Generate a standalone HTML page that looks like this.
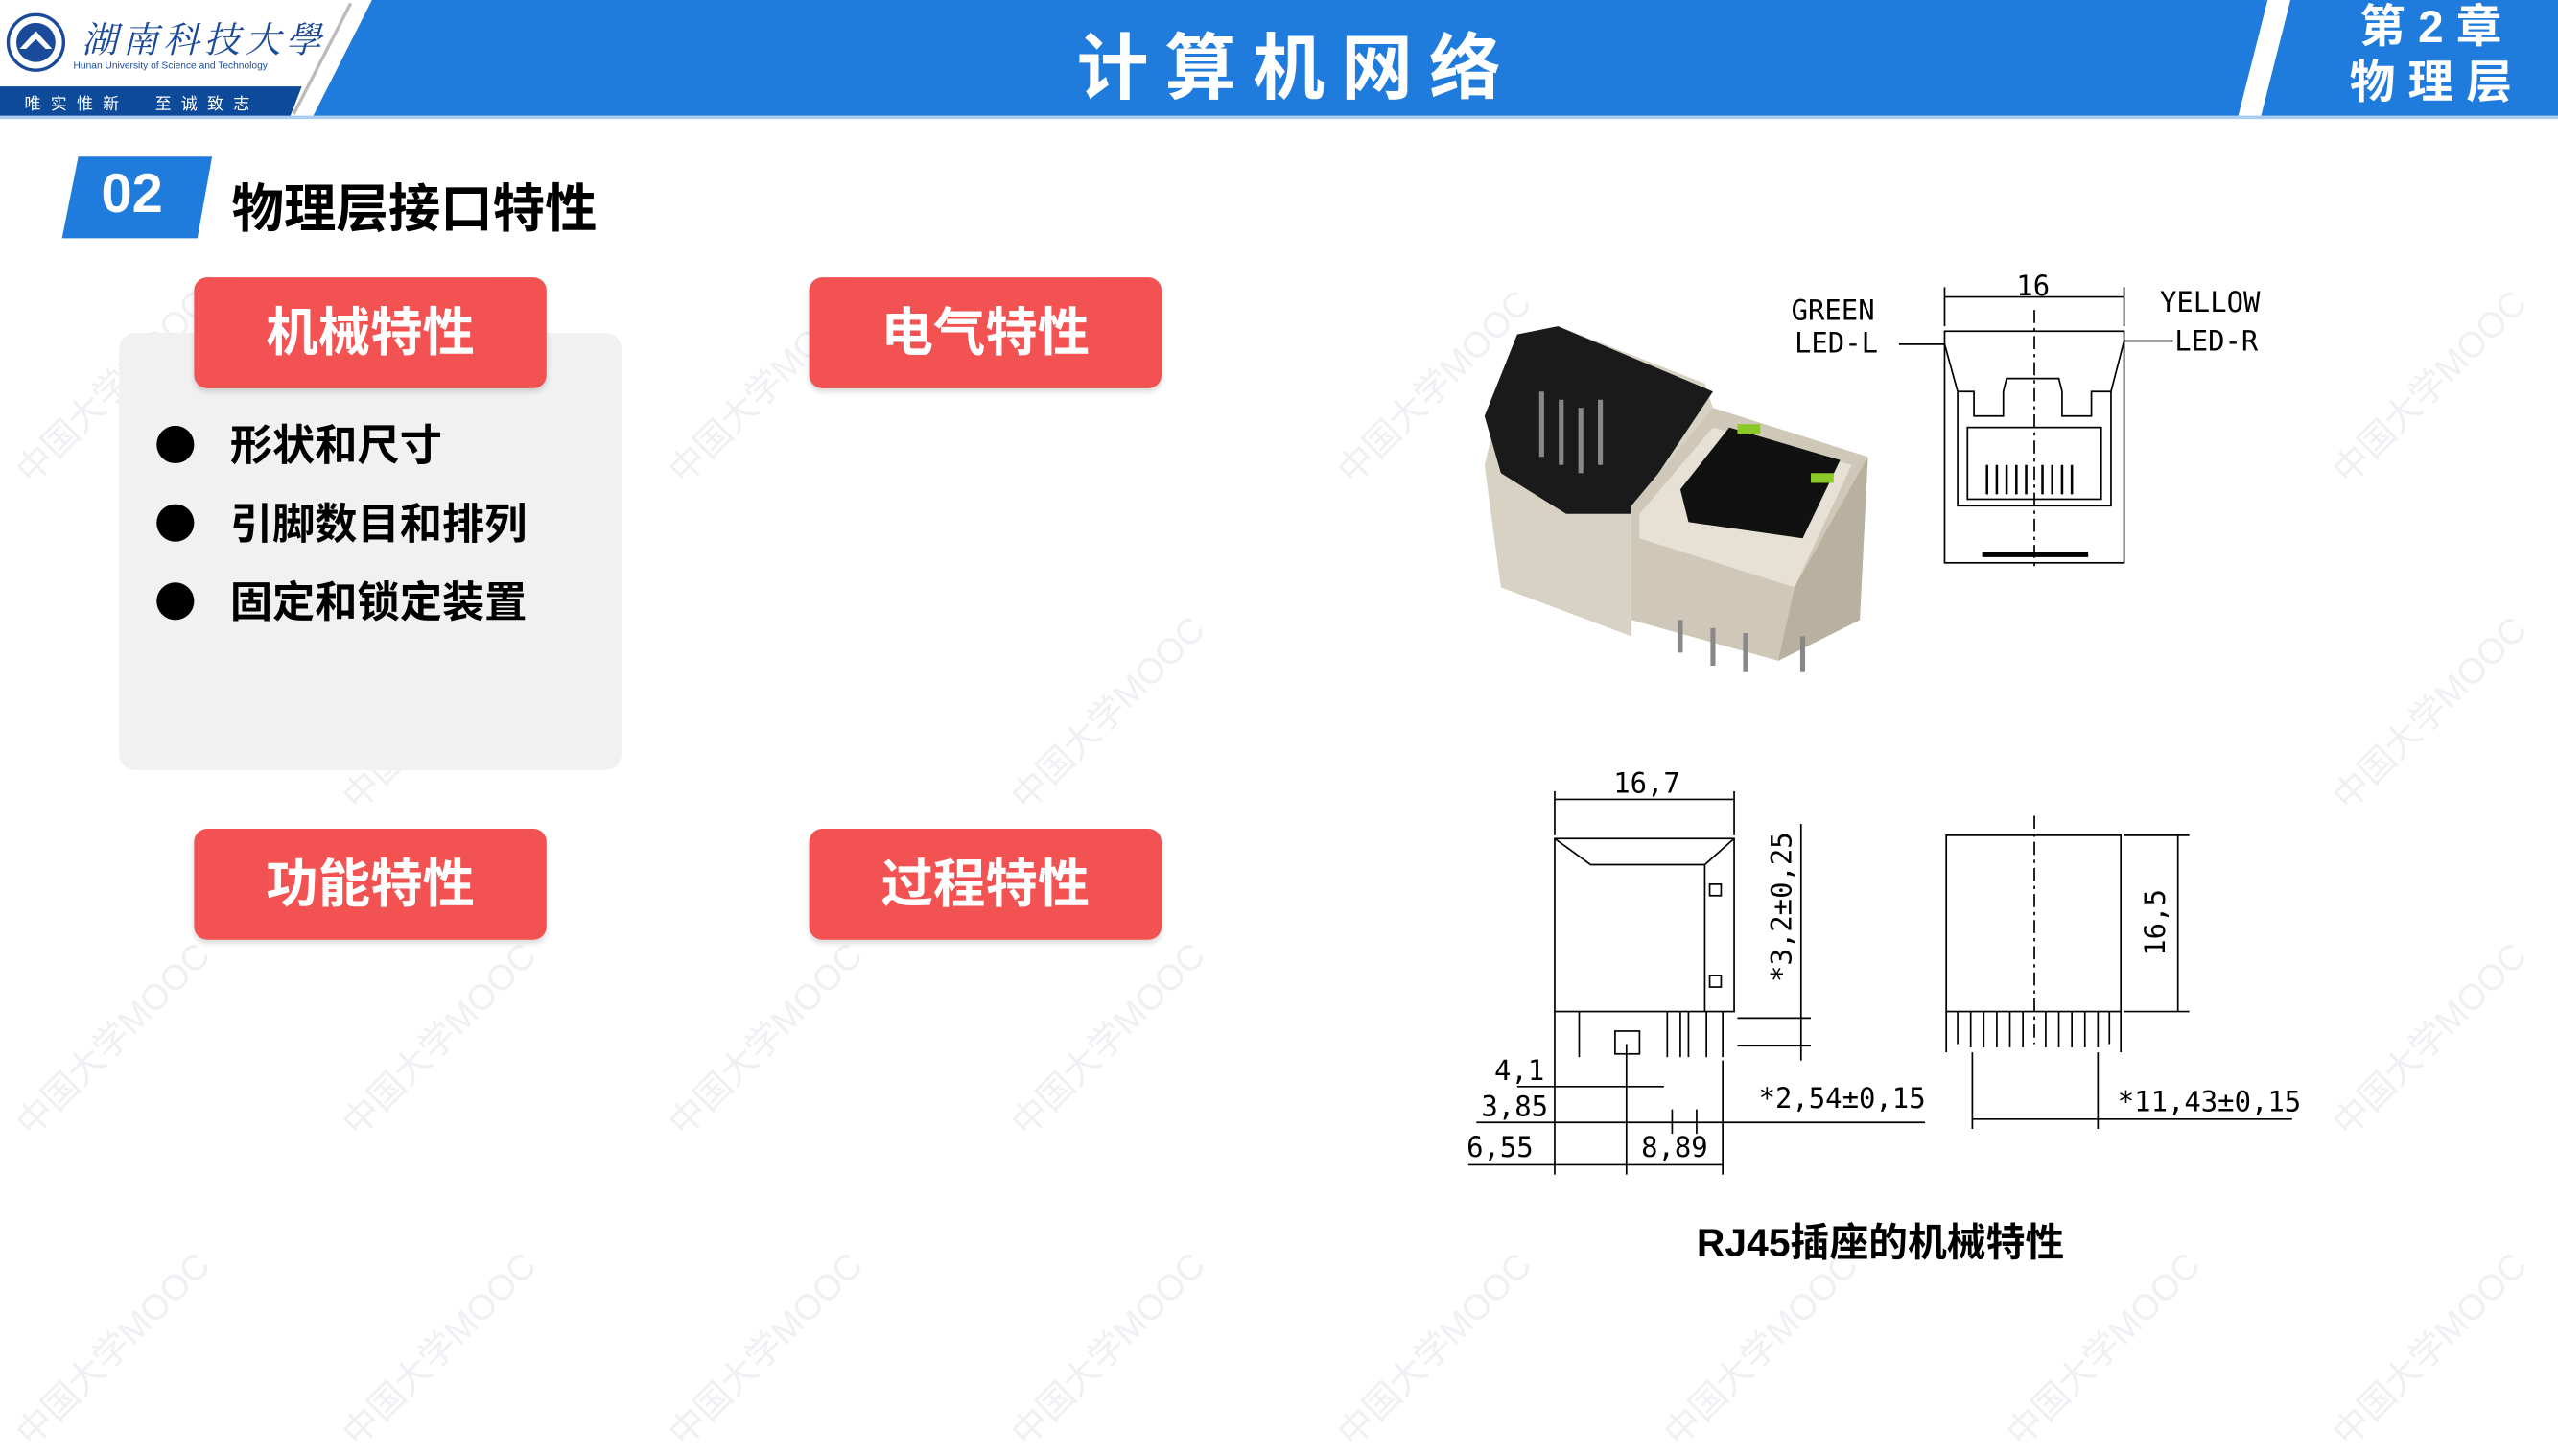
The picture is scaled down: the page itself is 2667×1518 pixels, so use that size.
<!DOCTYPE html>
<html><head><meta charset="utf-8">
<style>
html,body{margin:0;padding:0;}
body{width:2667px;height:1500px;overflow:hidden;background:#fff;position:relative;}
#s{position:absolute;left:0;top:0;width:1568px;height:882px;transform:scale(1.7009);transform-origin:0 0;font-family:"Liberation Sans","Noto Sans CJK SC",sans-serif;}
.a{position:absolute;}
.btn{position:absolute;width:216px;height:68px;background:#f25252;border-radius:8px;color:#fff;font-weight:bold;font-size:32px;text-align:center;line-height:68px;box-shadow:0 2px 3px rgba(0,0,0,0.15);}
.bul{position:absolute;left:96px;width:23px;height:23px;border-radius:50%;background:#000;}
.bt{position:absolute;left:141px;font-size:26px;font-weight:bold;color:#000;line-height:30px;}
.wm{position:absolute;color:#eef0f3;font-size:22px;transform:rotate(-45deg);white-space:nowrap;}
</style></head><body><div id="s">
<!-- watermarks -->
<div class="wm" style="left:-10px;top:220px">中国大学MOOC</div>
<div class="wm" style="left:190px;top:420px">中国大学MOOC</div>
<div class="wm" style="left:390px;top:220px">中国大学MOOC</div>
<div class="wm" style="left:600px;top:420px">中国大学MOOC</div>
<div class="wm" style="left:800px;top:220px">中国大学MOOC</div>
<div class="wm" style="left:1410px;top:220px">中国大学MOOC</div>
<div class="wm" style="left:1410px;top:420px">中国大学MOOC</div>
<div class="wm" style="left:1410px;top:620px">中国大学MOOC</div>
<div class="wm" style="left:1410px;top:810px">中国大学MOOC</div>
<div class="wm" style="left:-10px;top:620px">中国大学MOOC</div>
<div class="wm" style="left:-10px;top:810px">中国大学MOOC</div>
<div class="wm" style="left:190px;top:810px">中国大学MOOC</div>
<div class="wm" style="left:390px;top:810px">中国大学MOOC</div>
<div class="wm" style="left:600px;top:810px">中国大学MOOC</div>
<div class="wm" style="left:800px;top:810px">中国大学MOOC</div>
<div class="wm" style="left:1000px;top:810px">中国大学MOOC</div>
<div class="wm" style="left:1210px;top:810px">中国大学MOOC</div>
<div class="wm" style="left:600px;top:620px">中国大学MOOC</div>
<div class="wm" style="left:390px;top:620px">中国大学MOOC</div>
<div class="wm" style="left:190px;top:620px">中国大学MOOC</div>

<!-- header -->
<svg class="a" style="left:0;top:0" width="1568" height="75">
<rect x="0" y="0" width="1568" height="71" fill="#1f7bdc"/>
<polygon points="0,0 228,0 192,71 0,71" fill="#fff"/>
<polygon points="0,53 185,53 178,71 0,71" fill="#0e4a9a"/>
<line x1="215" y1="2" x2="180" y2="70" stroke="#bbb" stroke-width="2"/>
<polygon points="1390,0 1404,0 1386,71 1372,71" fill="#fff"/>
<rect x="0" y="71" width="1568" height="2" fill="#a9cdf2"/>
<circle cx="22" cy="26" r="17" fill="#fff" stroke="#1a4a9a" stroke-width="2"/>
<circle cx="22" cy="26" r="12" fill="#1a4a9a"/>
<polygon points="12,30 22,19 32,30 28,30 22,24 16,30" fill="#fff"/>
</svg>
<div class="a" style="left:50px;top:8px;font-size:22px;color:#1a4a9a;font-style:italic;letter-spacing:3px;font-family:'Noto Serif CJK SC',serif;">湖南科技大學</div>
<div class="a" style="left:45px;top:38px;font-size:6px;color:#1a4a9a;">Hunan University of Science and Technology</div>
<div class="a" style="left:15px;top:55px;font-size:10px;color:#fff;letter-spacing:6px;">唯实惟新　至诚致志</div>
<div class="a" style="left:600px;top:6px;width:390px;text-align:center;color:#fff;font-size:44px;font-weight:bold;letter-spacing:10px;">计算机网络</div>
<div class="a" style="left:1430px;top:0px;width:120px;text-align:center;color:#fff;font-size:28px;font-weight:bold;line-height:34px;">第 2 章<br>物 理 层</div>

<!-- section title -->
<svg class="a" style="left:0;top:90px" width="140" height="60"><polygon points="48,6 130,6 121,56 38,56" fill="#1f7bdc"/></svg>
<div class="a" style="left:62px;top:100px;color:#fff;font-size:34px;font-weight:bold;">02</div>
<div class="a" style="left:142px;top:103px;color:#000;font-size:32px;font-weight:bold;">物理层接口特性</div>

<!-- panel -->
<div class="a" style="left:73px;top:204px;width:308px;height:268px;background:#f1f1f1;border-radius:10px;"></div>
<div class="btn" style="left:119px;top:170px">机械特性</div>
<div class="btn" style="left:496px;top:170px">电气特性</div>
<div class="btn" style="left:119px;top:508px">功能特性</div>
<div class="btn" style="left:496px;top:508px">过程特性</div>
<div class="bul" style="top:261px"></div><div class="bt" style="top:258px">形状和尺寸</div>
<div class="bul" style="top:309px"></div><div class="bt" style="top:306px">引脚数目和排列</div>
<div class="bul" style="top:357px"></div><div class="bt" style="top:354px">固定和锁定装置</div>

<!-- photo -->
<svg class="a" style="left:900px;top:190px" width="260" height="235">
<polygon points="10,95 30,15 55,10 145,45 150,60 100,120 100,200 20,170" fill="#d8d2c4"/>
<polygon points="10,65 30,15 55,10 150,50 100,125 60,125 20,100" fill="#1a1a1a"/>
<polygon points="100,120 150,60 245,90 240,190 190,215 100,190" fill="#cfc8b8"/>
<polygon points="105,125 150,72 235,95 200,170 105,140" fill="#e6e1d4"/>
<polygon points="130,110 160,72 228,92 205,140 135,130" fill="#111"/>
<rect x="165" y="70" width="14" height="6" fill="#8ac926"/>
<rect x="210" y="100" width="14" height="6" fill="#8ac926"/>
<polygon points="190,215 240,190 245,90 200,170" fill="#b8b1a0"/>
<g stroke="#888" stroke-width="3"><line x1="45" y1="50" x2="45" y2="90"/><line x1="57" y1="55" x2="57" y2="95"/><line x1="69" y1="60" x2="69" y2="100"/><line x1="81" y1="55" x2="81" y2="95"/>
<line x1="130" y1="190" x2="130" y2="210"/><line x1="150" y1="195" x2="150" y2="218"/><line x1="170" y1="198" x2="170" y2="222"/><line x1="205" y1="200" x2="205" y2="222"/></g>
</svg>

<!-- technical drawings -->
<svg class="a" style="left:880px;top:160px" width="560" height="580" font-family="DejaVu Sans Mono, Liberation Mono, monospace" font-size="17" fill="none" stroke="#000" stroke-width="1">
<g transform="translate(-880,-160)">
<!-- top front view -->
<rect x="1192" y="203" width="110" height="142"/>
<line x1="1192" y1="176" x2="1192" y2="200"/><line x1="1302" y1="176" x2="1302" y2="200"/>
<line x1="1192" y1="182" x2="1302" y2="182"/>
<polyline points="1164,211 1192,211 1200,240"/>
<polyline points="1332,209 1302,209 1294,240"/>
<polyline points="1200,240 1210,240 1210,255 1228,255 1228,240 1230,232 1262,232 1264,240 1264,255 1282,255 1282,240 1294,240 1294,310 1200,310 1200,240"/>
<rect x="1206" y="262" width="82" height="44"/>
<line x1="1247" y1="190" x2="1247" y2="350" stroke-dasharray="8,3,2,3"/>
<g stroke-width="1.5"><line x1="1218" y1="285" x2="1218" y2="303"/><line x1="1224" y1="285" x2="1224" y2="303"/><line x1="1230" y1="285" x2="1230" y2="303"/><line x1="1236" y1="285" x2="1236" y2="303"/><line x1="1242" y1="285" x2="1242" y2="303"/><line x1="1252" y1="285" x2="1252" y2="303"/><line x1="1258" y1="285" x2="1258" y2="303"/><line x1="1264" y1="285" x2="1264" y2="303"/><line x1="1270" y1="285" x2="1270" y2="303"/></g>
<line x1="1215" y1="340" x2="1280" y2="340" stroke-width="3"/>
<g fill="#000" stroke="none"><text x="1098" y="196">GREEN</text><text x="1100" y="216">LED-L</text><text x="1324" y="191">YELLOW</text><text x="1333" y="215">LED-R</text><text x="1236" y="181">16</text></g>

<!-- bottom left view -->
<rect x="953" y="514" width="110" height="106"/>
<polyline points="953,514 975,530 1045,530 1063,514"/>
<line x1="1045" y1="530" x2="1045" y2="620"/>
<rect x="1048" y="542" width="7" height="7"/><rect x="1048" y="598" width="7" height="7"/>
<line x1="953" y1="485" x2="953" y2="512"/><line x1="1063" y1="485" x2="1063" y2="512"/>
<line x1="953" y1="490" x2="1063" y2="490"/>
<line x1="968" y1="620" x2="968" y2="648"/><line x1="1035" y1="620" x2="1035" y2="648"/><line x1="1046" y1="620" x2="1046" y2="648"/><line x1="1056" y1="620" x2="1056" y2="648"/>
<rect x="990" y="632" width="15" height="14"/><line x1="1022" y1="620" x2="1022" y2="648"/><line x1="1030" y1="620" x2="1030" y2="648"/>
<line x1="1104" y1="505" x2="1104" y2="650"/>
<line x1="1065" y1="624" x2="1110" y2="624"/><line x1="1065" y1="641" x2="1110" y2="641"/>
<line x1="953" y1="620" x2="953" y2="720"/><line x1="1056" y1="650" x2="1056" y2="720"/><line x1="997" y1="640" x2="997" y2="720"/>
<line x1="930" y1="666" x2="1020" y2="666"/><line x1="905" y1="688" x2="1180" y2="688"/><line x1="900" y1="714" x2="1056" y2="714"/>
<line x1="1025" y1="680" x2="1025" y2="695"/><line x1="1040" y1="680" x2="1040" y2="695"/>
<g fill="#000" stroke="none"><text x="989" y="486">16,7</text><text x="916" y="662">4,1</text><text x="908" y="684">3,85</text><text x="899" y="709">6,55</text><text x="1006" y="709">8,89</text><text x="1078" y="679">*2,54±0,15</text>
<text transform="translate(1098,602) rotate(-90)">*3,2±0,25</text></g>

<!-- bottom right view -->
<rect x="1193" y="512" width="107" height="108"/>
<line x1="1247" y1="500" x2="1247" y2="640" stroke-dasharray="8,3,2,3"/>
<line x1="1193" y1="620" x2="1193" y2="645"/><line x1="1300" y1="620" x2="1300" y2="645"/>
<g><line x1="1200" y1="620" x2="1200" y2="640"/><line x1="1208" y1="620" x2="1208" y2="642"/><line x1="1216" y1="620" x2="1216" y2="642"/><line x1="1224" y1="620" x2="1224" y2="642"/><line x1="1232" y1="620" x2="1232" y2="642"/><line x1="1240" y1="620" x2="1240" y2="642"/><line x1="1254" y1="620" x2="1254" y2="642"/><line x1="1262" y1="620" x2="1262" y2="642"/><line x1="1270" y1="620" x2="1270" y2="642"/><line x1="1278" y1="620" x2="1278" y2="642"/><line x1="1286" y1="620" x2="1286" y2="642"/><line x1="1293" y1="620" x2="1293" y2="640"/></g>
<line x1="1302" y1="512" x2="1342" y2="512"/><line x1="1302" y1="620" x2="1342" y2="620"/><line x1="1335" y1="512" x2="1335" y2="620"/>
<line x1="1209" y1="645" x2="1209" y2="692"/><line x1="1286" y1="645" x2="1286" y2="692"/><line x1="1209" y1="686" x2="1405" y2="686"/>
<g fill="#000" stroke="none"><text x="1298" y="681">*11,43±0,15</text><text transform="translate(1327,586) rotate(-90)">16,5</text></g>
</g>
</svg>
<div class="a" style="left:1040px;top:742px;font-size:24px;font-weight:bold;color:#000;">RJ45插座的机械特性</div>
</div></body></html>
